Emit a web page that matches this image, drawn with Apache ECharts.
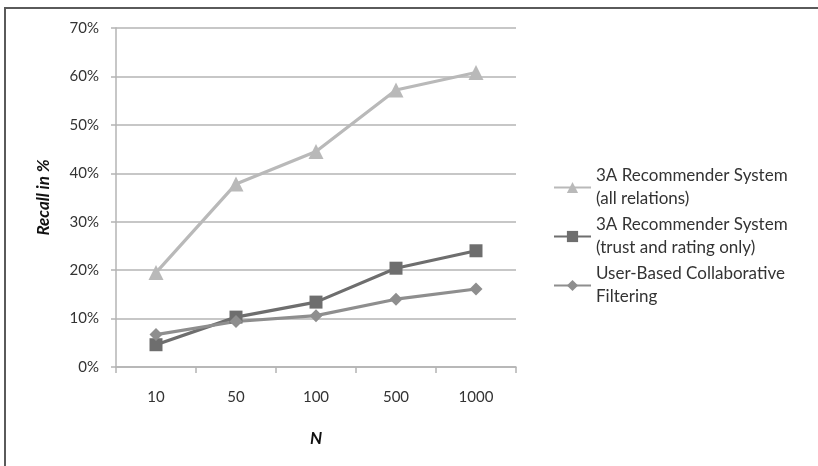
<!DOCTYPE html>
<html>
<head>
<meta charset="utf-8">
<script src="https://cdn.jsdelivr.net/npm/echarts@6/dist/echarts.min.js"></script>
<style>
html,body{margin:0;padding:0;background:#fff;}
#c{width:818px;height:466px;}
</style>
</head>
<body>
<div id="c"></div>
<script>
const categories = ['10', '50', '100', '500', '1000'];
const seriesNames = [
  '3A Recommender System\n(all relations)',
  '3A Recommender System\n(trust and rating only)',
  'User-Based Collaborative\nFiltering'
];
const allRelations = [19.5, 37.8, 44.5, 57.2, 60.8];
const trustRating = [4.6, 10.3, 13.4, 20.4, 24.0];
const userBasedCF = [6.7, 9.4, 10.6, 14.0, 16.1];
const yTicks = [0, 10, 20, 30, 40, 50, 60, 70];

const FONT = 'Lato';
const chart = echarts.init(document.getElementById('c'), null, {renderer: 'canvas'});

function mk(name, data, color, symbol, size) {
  return {
    name: name,
    type: 'line',
    data: data,
    symbol: symbol,
    symbolSize: size,
    showAllSymbol: true,
    lineStyle: {color: color, width: 3.2},
    itemStyle: {color: color},
    emphasis: {disabled: true},
    animation: false
  };
}

chart.setOption({
  animation: false,
  backgroundColor: '#fff',
  graphic: [{
    type: 'rect',
    shape: {x: 5, y: 8, width: 900, height: 600},
    style: {fill: null, stroke: '#5a5a5a', lineWidth: 2},
    silent: true
  }],
  grid: {left: 116, right: 302, top: 28, bottom: 99, containLabel: false},
  legend: {
    orient: 'vertical',
    left: 548,
    top: 148,
    itemWidth: 37,
    itemHeight: 14,
    itemGap: -20,
    textStyle: {
      fontFamily: FONT,
      fontSize: 17,
      color: '#333',
      lineHeight: 23,
      padding: [23, 0, 0, 0]
    },
    data: seriesNames
  },
  xAxis: {
    type: 'category',
    data: categories,
    boundaryGap: true,
    name: 'N',
    nameLocation: 'middle',
    nameGap: 63,
    nameTextStyle: {fontFamily: FONT, fontSize: 17, fontWeight: 'bold', fontStyle: 'italic', color: '#111'},
    axisLine: {lineStyle: {color: '#b4b4b4', width: 1.5}},
    axisTick: {show: true, length: 6, lineStyle: {color: '#b4b4b4', width: 1.5}},
    axisLabel: {fontFamily: FONT, fontSize: 15, color: '#333', margin: 23}
  },
  yAxis: {
    type: 'value',
    min: yTicks[0],
    max: yTicks[yTicks.length - 1],
    interval: 10,
    name: 'Recall in %',
    nameLocation: 'middle',
    nameGap: 64,
    nameRotate: 90,
    nameTextStyle: {fontFamily: FONT, fontSize: 17, fontWeight: 'bold', fontStyle: 'italic', color: '#111'},
    axisLine: {show: true, lineStyle: {color: '#b4b4b4', width: 1.5}},
    axisTick: {show: true, length: 5, lineStyle: {color: '#b4b4b4', width: 1.5}},
    splitLine: {show: true, lineStyle: {color: '#b4b4b4', width: 1.5}},
    axisLabel: {fontFamily: FONT, fontSize: 15, color: '#333', margin: 17, formatter: '{value}%'}
  },
  series: [
    mk(seriesNames[0], allRelations, '#b9b9b9', 'triangle', 15),
    mk(seriesNames[1], trustRating, '#6e6e6e', 'rect', 13),
    mk(seriesNames[2], userBasedCF, '#8e8e8e', 'diamond', 13)
  ]
});
</script>
</body>
</html>
